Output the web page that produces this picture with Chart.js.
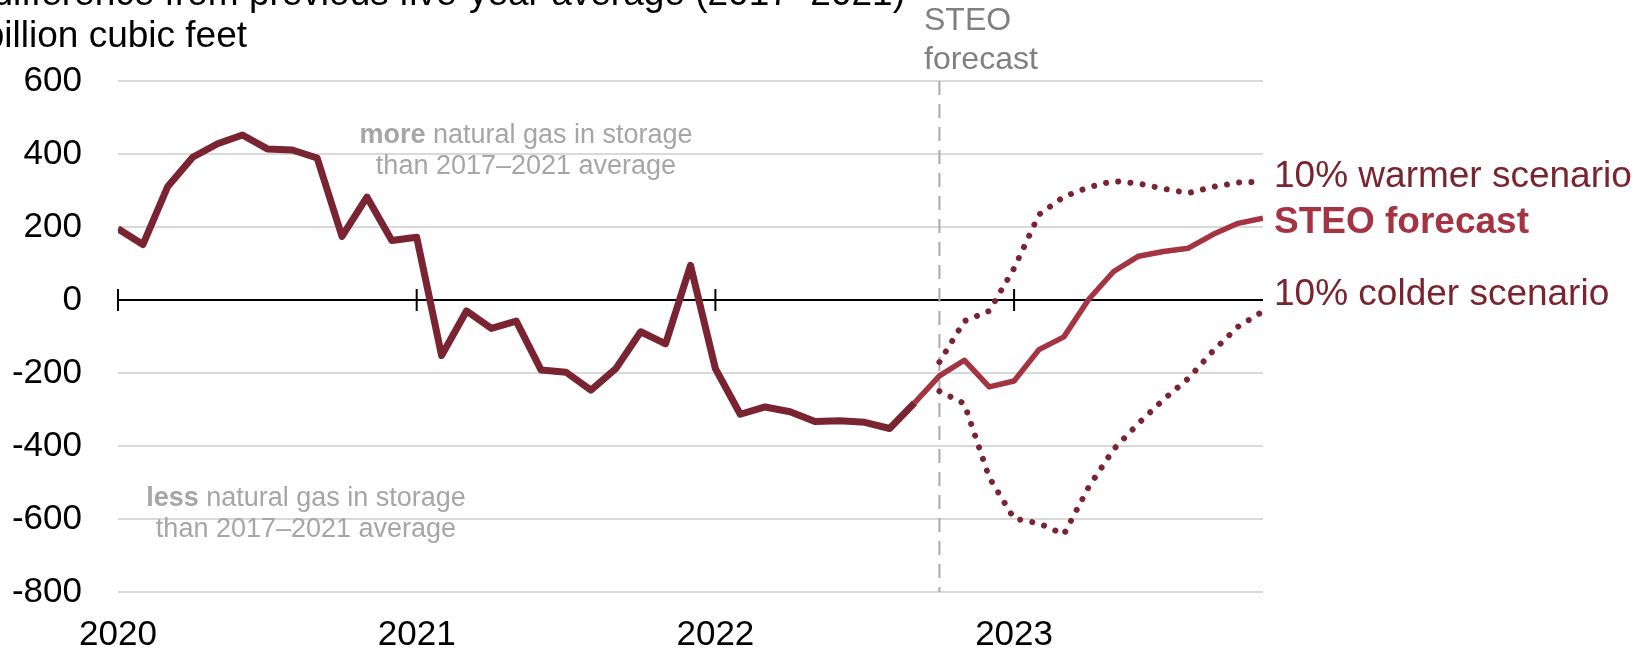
<!DOCTYPE html>
<html>
<head>
<meta charset="utf-8">
<script src="https://cdn.jsdelivr.net/npm/chart.js@4.4.0/dist/chart.umd.min.js"></script>
<style>
  html, body { margin: 0; padding: 0; background: #fff; }
  #wrap { width: 1637px; height: 650px; position: relative; }
</style>
</head>
<body>
<div id="wrap"><canvas id="myChart"></canvas></div>
<script>
// months counted from Jan 2020 = 0
const yearLabels = ['2020', '2021', '2022', '2023'];
const yearTicks = [0, 12, 24, 36];
const yTicks = [-800, -600, -400, -200, 0, 200, 400, 600];

// historical, Jan 2020 - Sep 2022
const histStart = 0;
const history = [195, 152, 311, 391, 428, 452, 414, 411, 389, 174, 282, 163,
  172, -152, -30, -78, -58, -192, -198, -247, -188, -87, -120, 95,
  -188, -313, -293, -306, -333, -331, -335, -352, -282];

// STEO forecast, Sep 2022 - Nov 2023
const steoStart = 32;
const steo = [-282, -208, -165, -238, -222, -136, -101, 2, 78, 120, 133, 142, 180, 210, 224];

// scenarios, Oct 2022 - Nov 2023
const scenStart = 33;
const warmer = [-170, -58, -30, 87, 234, 283, 309, 326, 319, 305, 293, 310, 322, 324];
const colder = [-250, -284, -486, -599, -612, -642, -512, -409, -338, -273, -215, -139, -73, -31];

const forecastStart = 33;

const darkRed = '#7a2431';
const steoRed = '#a53443';
const font = '"Liberation Sans", Arial, sans-serif';

function pts(start, arr) {
  return arr.map((v, i) => ({ x: start + i, y: v }));
}

const decor = {
  id: 'decor',
  beforeDatasetsDraw(chart) {
    const { ctx, scales: { x, y } } = chart;
    const y0 = y.getPixelForValue(0);
    ctx.save();
    ctx.strokeStyle = '#000';
    ctx.lineWidth = 2;
    yearTicks.forEach(m => {
      const px = x.getPixelForValue(m);
      ctx.beginPath();
      ctx.moveTo(px, y0 - 11);
      ctx.lineTo(px, y0 + 11);
      ctx.stroke();
    });
    const fx = x.getPixelForValue(forecastStart);
    ctx.strokeStyle = '#aaaaaa';
    ctx.setLineDash([14, 9]);
    ctx.beginPath();
    ctx.moveTo(fx, y.top);
    ctx.lineTo(fx, y.bottom);
    ctx.stroke();
    ctx.restore();
  },
  afterDraw(chart) {
    const { ctx } = chart;
    ctx.save();
    // axis title (cropped at the top/left like the original)
    ctx.fillStyle = '#000';
    ctx.font = '37px ' + font;
    ctx.textAlign = 'right';
    ctx.textBaseline = 'alphabetic';
    ctx.fillText('difference from previous five-year average (2017\u20132021)', 905, 5);
    ctx.fillText('billion cubic feet', 247, 47);

    // forecast marker label
    ctx.textAlign = 'left';
    ctx.textBaseline = 'middle';
    ctx.fillStyle = '#808080';
    ctx.font = '32px ' + font;
    ctx.fillText('STEO', 924, 21);
    ctx.fillText('forecast', 924, 60);

    // series labels
    ctx.font = '37px ' + font;
    ctx.fillStyle = darkRed;
    ctx.fillText('10% warmer scenario', 1274, 177);
    ctx.fillText('10% colder scenario', 1274, 295);
    ctx.font = 'bold 37px ' + font;
    ctx.fillStyle = steoRed;
    ctx.fillText('STEO forecast', 1274, 223);

    // more / less notes
    function note(boldWord, rest, cx, cy) {
      ctx.font = 'bold 27px ' + font;
      const wb = ctx.measureText(boldWord).width;
      ctx.font = '27px ' + font;
      const wr = ctx.measureText(rest).width;
      const x0 = cx - (wb + wr) / 2;
      ctx.textAlign = 'left';
      ctx.font = 'bold 27px ' + font;
      ctx.fillText(boldWord, x0, cy);
      ctx.font = '27px ' + font;
      ctx.fillText(rest, x0 + wb, cy);
    }
    ctx.fillStyle = '#a6a6a6';
    note('more', ' natural gas in storage', 526, 136);
    note('less', ' natural gas in storage', 306, 499);
    ctx.font = '27px ' + font;
    ctx.textAlign = 'center';
    ctx.fillText('than 2017\u20132021 average', 526, 167);
    ctx.fillText('than 2017\u20132021 average', 306, 530);
    ctx.restore();
  }
};

new Chart(document.getElementById('myChart'), {
  type: 'line',
  data: {
    datasets: [
      {
        label: 'history',
        data: pts(histStart, history),
        borderColor: darkRed,
        borderWidth: 7,
        borderJoinStyle: 'round',
        pointRadius: 0
      },
      {
        label: 'STEO forecast',
        data: pts(steoStart, steo),
        borderColor: steoRed,
        borderWidth: 5.5,
        borderJoinStyle: 'round',
        pointRadius: 0
      },
      {
        label: '10% warmer scenario',
        data: pts(scenStart, warmer),
        borderColor: darkRed,
        borderWidth: 6,
        borderDash: [0.01, 12.3],
        borderCapStyle: 'round',
        pointRadius: 0
      },
      {
        label: '10% colder scenario',
        data: pts(scenStart, colder),
        borderColor: darkRed,
        borderWidth: 6,
        borderDash: [0.01, 12.3],
        borderCapStyle: 'round',
        pointRadius: 0
      }
    ]
  },
  options: {
    responsive: true,
    maintainAspectRatio: false,
    animation: false,
    layout: { padding: { top: 81, right: 374, bottom: 0, left: 0 } },
    plugins: {
      legend: { display: false },
      tooltip: { enabled: false }
    },
    scales: {
      x: {
        type: 'linear',
        min: 0,
        max: 46,
        afterBuildTicks: axis => { axis.ticks = yearTicks.map(v => ({ value: v })); },
        afterFit: axis => { axis.height = 58; },
        grid: { display: false, drawTicks: false },
        border: { display: false },
        ticks: {
          autoSkip: false,
          maxRotation: 0,
          padding: 22,
          color: '#000',
          font: { family: font, size: 35 },
          callback: v => yearLabels[yearTicks.indexOf(v)]
        }
      },
      y: {
        min: -800,
        max: 600,
        afterBuildTicks: axis => { axis.ticks = yTicks.map(v => ({ value: v })); },
        afterFit: axis => { axis.width = 118; },
        grid: {
          drawTicks: false,
          color: c => c.tick && c.tick.value === 0 ? '#000' : '#d9d9d9',
          lineWidth: 2
        },
        border: { display: false },
        ticks: {
          padding: 36,
          color: '#000',
          font: { family: font, size: 35 },
          callback: v => String(v)
        }
      }
    }
  },
  plugins: [decor]
});
</script>
</body>
</html>
